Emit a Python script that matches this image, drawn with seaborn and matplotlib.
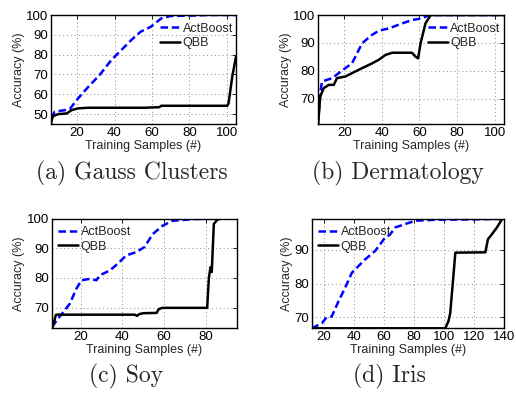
import matplotlib
matplotlib.use("Agg")
import numpy as np
import pandas as pd
import seaborn as sns
import matplotlib.pyplot as plt

# (a) Gauss Clusters
gauss_act_x = [6, 8, 13.4, 16, 20.5, 26, 32, 38.3, 43.6, 49, 54, 59.5, 65, 70, 81, 90, 105]
gauss_act_y = [48, 51.2, 52, 52.5, 57.9, 63.8, 69.7, 77.3, 82.3, 87.4, 91.6, 94.1, 98.3, 99.5, 99.7, 100, 100]
gauss_qbb_x = [6, 6.5, 7.2, 9.9, 14.3, 15.5, 17, 20.5, 26, 56, 64, 65, 100.3, 101, 103, 105]
gauss_qbb_y = [45, 47.5, 49, 50, 50.3, 51, 52, 52.9, 53.2, 53.2, 53.5, 54.2, 54.2, 55.4, 68.9, 79]

# (b) Dermatology
derm_act_x = [6, 6.5, 7.2, 8.1, 13.5, 20.6, 24.1, 29.5, 34.8, 38.4, 43.7, 50.8, 56, 61.5, 65, 70, 105]
derm_act_y = [61, 66, 72, 76.2, 77.4, 81, 82.7, 89.9, 92.9, 94.4, 95.2, 97, 98.2, 98.8, 100, 100, 100]
derm_qbb_x = [6, 6.4, 7.2, 9, 11.7, 14.4, 16.1, 20.6, 24.1, 29.5, 34.8, 38.4, 41.9, 45.5, 56, 57.9, 59.3, 60.6, 63.2, 66, 105]
derm_qbb_y = [61, 64, 70.8, 73.8, 75, 75, 77.4, 78, 79.2, 81, 82.7, 84, 85.7, 86.5, 86.5, 85.1, 84.5, 89.9, 97, 100, 100]

# (c) Soy
soy_act_x = [6, 6.8, 8.4, 11.6, 14.7, 17.9, 20.3, 24.3, 27.5, 29.1, 33.9, 37.8, 41.8, 46.6, 50.6, 54.6, 59.3, 64.1, 75.3, 85, 95]
soy_act_y = [63.5, 64, 65.7, 68.5, 71.3, 76.4, 79.2, 79.7, 79.2, 80.9, 82.5, 84.8, 87.6, 88.7, 90.4, 94.8, 97.6, 99.3, 99.9, 100, 100]
soy_qbb_x = [6, 6.5, 8, 8.4, 46, 47, 48.2, 50, 56.5, 57.5, 59.3, 80.8, 81.6, 82.4, 83, 84, 85.6, 87, 95]
soy_qbb_y = [63, 63.5, 67.5, 67.6, 67.6, 67.2, 67.8, 68.1, 68.2, 69.5, 69.9, 69.9, 80, 83.6, 82, 98.2, 99.6, 100, 100]

# (d) Iris
iris_act_x = [12, 18.7, 22, 25.3, 29.8, 34.2, 38.7, 43.1, 47.6, 54.2, 60.9, 64, 67.6, 74.2, 81, 96, 120, 132, 140]
iris_act_y = [66.7, 68.2, 70, 70.2, 74.7, 78.7, 83.2, 85.2, 87.2, 89.7, 93.7, 94.5, 96.7, 97.7, 98.7, 99, 99.1, 99.2, 99.2]
iris_qbb_x = [12, 100.9, 103.1, 104.2, 106.4, 107.6, 127.6, 129.3, 132, 135.3, 138.7, 140]
iris_qbb_y = [66.7, 66.7, 68.9, 71.2, 82.7, 89.2, 89.3, 93.2, 94.7, 96.7, 99.2, 99.3]

captions = ["(a) Gauss Clusters", "(b) Dermatology", "(c) Soy", "(d) Iris"]

sns.set_style("white")
plt.rcParams["font.family"] = ["Liberation Sans", "DejaVu Sans"]

fig = plt.figure(figsize=(5.16, 3.93), dpi=100)
W, H = 516.0, 393.0


def add_axes(x0, y0, x1, y1):
    # pixel box (top-down) -> figure fraction
    return fig.add_axes([x0 / W, 1 - y1 / H, (x1 - x0) / W, (y1 - y0) / H])


panels = [
    dict(box=(51, 15, 236, 124), act=(gauss_act_x, gauss_act_y), qbb=(gauss_qbb_x, gauss_qbb_y),
         xlim=(6, 105), ylim=(45, 100), xt=[20, 40, 60, 80, 100], yt=[50, 60, 70, 80, 90, 100],
         leg=(0.59, 0.93), cap=(132, 173)),
    dict(box=(318, 15, 504, 124), act=(derm_act_x, derm_act_y), qbb=(derm_qbb_x, derm_qbb_y),
         xlim=(6, 105), ylim=(61, 100), xt=[20, 40, 60, 80, 100], yt=[70, 80, 90, 100],
         leg=(0.59, 0.93), cap=(398, 173)),
    dict(box=(51.7, 218.7, 236.7, 328.3), act=(soy_act_x, soy_act_y), qbb=(soy_qbb_x, soy_qbb_y),
         xlim=(6, 95), ylim=(63, 100), xt=[20, 40, 60, 80], yt=[70, 80, 90, 100],
         leg=(0.034, 0.93), cap=(125.6, 376)),
    dict(box=(311.7, 218.7, 504, 328.3), act=(iris_act_x, iris_act_y), qbb=(iris_qbb_x, iris_qbb_y),
         xlim=(12, 140), ylim=(66.7, 99.3), xt=[20, 40, 60, 80, 100, 120, 140], yt=[70, 80, 90],
         leg=(0.033, 0.93), cap=(389, 376)),
]

for p, cap in zip(panels, captions):
    ax = add_axes(*p["box"])
    act = pd.DataFrame({"x": p["act"][0], "y": p["act"][1]})
    qbb = pd.DataFrame({"x": p["qbb"][0], "y": p["qbb"][1]})
    sns.lineplot(data=act, x="x", y="y", ax=ax, color="#0000ff", linewidth=1.8,
                 linestyle=(0, (3.0, 1.5)), sort=False, estimator=None, label="ActBoost")
    sns.lineplot(data=qbb, x="x", y="y", ax=ax, color="black", linewidth=1.8,
                 sort=False, estimator=None, label="QBB")
    ax.set_xlim(*p["xlim"])
    ax.set_ylim(*p["ylim"])
    ax.set_xticks(p["xt"])
    ax.set_yticks(p["yt"])
    ax.grid(True, linestyle=(0, (1, 3)), color="#888888", linewidth=0.7)
    ax.tick_params(direction="in", length=3, width=0.6, labelsize=9.5, pad=2,
                   top=True, right=True, colors="black")
    for s in ax.spines.values():
        s.set_color("black")
        s.set_linewidth(1.0)
    ax.set_xlabel("Training Samples (#)", fontsize=9, labelpad=1)
    ax.set_ylabel("Accuracy (%)", fontsize=9, labelpad=1)
    ax.legend(loc="upper left", bbox_to_anchor=p["leg"], frameon=False, fontsize=9,
              handlelength=1.6, handletextpad=0.2, labelspacing=0.2, borderpad=0,
              borderaxespad=0)
    fig.text(p["cap"][0] / W, 1 - p["cap"][1] / H, cap, ha="center", va="center",
             fontsize=17, family="cmr10")

fig.savefig("out.png", dpi=100)
